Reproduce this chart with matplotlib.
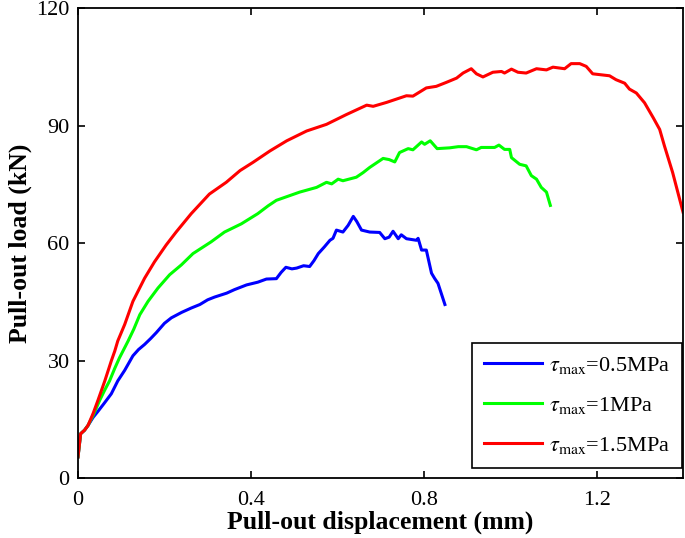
import matplotlib
matplotlib.use("Agg")
import matplotlib.pyplot as plt

plt.rcParams['font.family'] = ['Liberation Serif', 'DejaVu Serif']
plt.rcParams['mathtext.fontset'] = 'stix'

x_blue = [0, 0.006, 0.015, 0.023, 0.035, 0.046, 0.060, 0.077, 0.092, 0.108, 0.127, 0.140, 0.154, 0.168,
          0.181, 0.200, 0.216, 0.240, 0.262, 0.282, 0.300, 0.316, 0.344, 0.362, 0.390, 0.416, 0.436, 0.459,
          0.470, 0.481, 0.495, 0.506, 0.522, 0.536, 0.546, 0.556, 0.570, 0.583, 0.590, 0.598, 0.613, 0.625,
          0.637, 0.645, 0.656, 0.675, 0.698, 0.710, 0.720, 0.729, 0.741, 0.748, 0.760, 0.783, 0.787, 0.795,
          0.806, 0.818, 0.825, 0.833, 0.849]
y_blue = [5.4, 11.3, 12.2, 13.4, 15.5, 17.0, 19.0, 21.5, 24.8, 27.5, 31.2, 32.8, 34.1, 35.6,
          37.1, 39.5, 40.9, 42.3, 43.4, 44.3, 45.5, 46.2, 47.2, 48.1, 49.3, 50.0, 50.8, 50.9,
          52.5, 53.8, 53.4, 53.6, 54.2, 54.0, 55.5, 57.3, 59.0, 60.7, 61.2, 63.3, 62.8, 64.5,
          66.8, 65.5, 63.3, 62.8, 62.7, 61.1, 61.5, 63.0, 61.1, 62.1, 61.1, 60.7, 61.2, 58.2,
          58.2, 52.3, 51.0, 49.7, 44.3]

x_green = [0, 0.006, 0.015, 0.023, 0.035, 0.050, 0.062, 0.073, 0.085, 0.096, 0.116, 0.129, 0.143, 0.162,
           0.185, 0.212, 0.239, 0.266, 0.308, 0.339, 0.378, 0.416, 0.440, 0.459, 0.513, 0.552, 0.575, 0.587,
           0.602, 0.613, 0.644, 0.660, 0.675, 0.706, 0.720, 0.733, 0.744, 0.764, 0.775, 0.795, 0.802, 0.815,
           0.831, 0.860, 0.880, 0.899, 0.922, 0.933, 0.964, 0.974, 0.987, 0.999, 1.003, 1.022, 1.037, 1.049,
           1.061, 1.072, 1.084, 1.093]
y_green = [5.4, 11.3, 12.2, 13.4, 16.0, 19.8, 22.5, 24.8, 28.0, 30.7, 35.0, 38.0, 41.7, 45.1,
           48.5, 51.9, 54.4, 57.3, 60.3, 62.8, 64.9, 67.5, 69.5, 70.9, 73.0, 74.2, 75.5, 75.1,
           76.3, 75.9, 76.8, 78.0, 79.3, 81.6, 81.3, 80.7, 83.1, 84.1, 83.8, 85.8, 85.2, 86.1,
           84.1, 84.3, 84.6, 84.6, 83.8, 84.4, 84.4, 85.0, 83.9, 83.9, 81.8, 80.1, 79.7, 77.2,
           76.3, 74.2, 73.0, 69.6]

x_red = [0, 0.006, 0.015, 0.023, 0.035, 0.046, 0.062, 0.077, 0.085, 0.092, 0.108, 0.127, 0.154, 0.177,
         0.204, 0.227, 0.262, 0.304, 0.343, 0.375, 0.405, 0.444, 0.483, 0.529, 0.575, 0.621, 0.668, 0.683,
         0.714, 0.760, 0.775, 0.806, 0.829, 0.852, 0.876, 0.891, 0.910, 0.922, 0.937, 0.960, 0.980, 0.987,
         1.003, 1.018, 1.037, 1.061, 1.084, 1.099, 1.126, 1.141, 1.161, 1.176, 1.191, 1.230, 1.245, 1.265,
         1.276, 1.292, 1.311, 1.331, 1.346, 1.357, 1.376, 1.400]
y_red = [5.4, 11.3, 12.2, 13.4, 16.5, 19.8, 24.8, 29.9, 32.4, 35.0, 39.2, 45.1, 51.0, 55.2,
         59.5, 62.8, 67.5, 72.5, 75.5, 78.5, 80.6, 83.5, 86.1, 88.6, 90.3, 92.8, 95.2, 94.9,
         95.9, 97.6, 97.5, 99.6, 100.0, 101.0, 102.1, 103.4, 104.5, 103.2, 102.4, 103.6, 103.8, 103.4,
         104.4, 103.6, 103.4, 104.5, 104.2, 104.9, 104.5, 105.8, 105.8, 105.1, 103.2, 102.7, 101.7, 100.8,
         99.3, 98.3, 95.8, 92.0, 89.0, 84.8, 78.0, 67.9]

labels = [r'$\tau_{\mathrm{max}}$=0.5MPa', r'$\tau_{\mathrm{max}}$=1MPa', r'$\tau_{\mathrm{max}}$=1.5MPa']
x_ticks = [0, 0.4, 0.8, 1.2]
x_ticklabels = ['0', '0.4', '0.8', '1.2']
y_ticks = [0, 30, 60, 90, 120]

fig = plt.figure(figsize=(6.85, 5.38), dpi=100)
ax = fig.add_axes([0.1139, 0.1115, 0.8832, 0.8736])

ax.plot(x_blue, y_blue, color='#0000ff', lw=2.2, label=labels[0])
ax.plot(x_green, y_green, color='#00ff00', lw=2.2, label=labels[1])
ax.plot(x_red, y_red, color='#ff0000', lw=2.2, label=labels[2])

ax.set_xlim(0, 1.4)
ax.set_ylim(0, 120)
ax.set_xticks(x_ticks)
ax.set_xticklabels(x_ticklabels)
ax.set_yticks(y_ticks)
ax.tick_params(direction='in', length=5, width=1.2, labelsize=16, top=True, right=True, colors='black')
ax.tick_params(axis='x', pad=9.5)
ax.tick_params(axis='y', pad=6)
for s in ax.spines.values():
    s.set_linewidth(1.3)

ax.set_xlabel('Pull-out displacement (mm)', fontsize=18.5, fontweight='bold', labelpad=0)
ax.set_ylabel('Pull-out load (kN)', fontsize=18.5, fontweight='bold', labelpad=3)

leg = ax.legend(loc='lower right', bbox_to_anchor=(0.998, 0.021), borderaxespad=0,
                fontsize=16, handlelength=2.6, fancybox=False, framealpha=1,
                edgecolor='black', labelspacing=0.85, borderpad=0.55, handletextpad=0.3)
leg.get_frame().set_linewidth(1.2)

fig.savefig('out.png', dpi=100)
